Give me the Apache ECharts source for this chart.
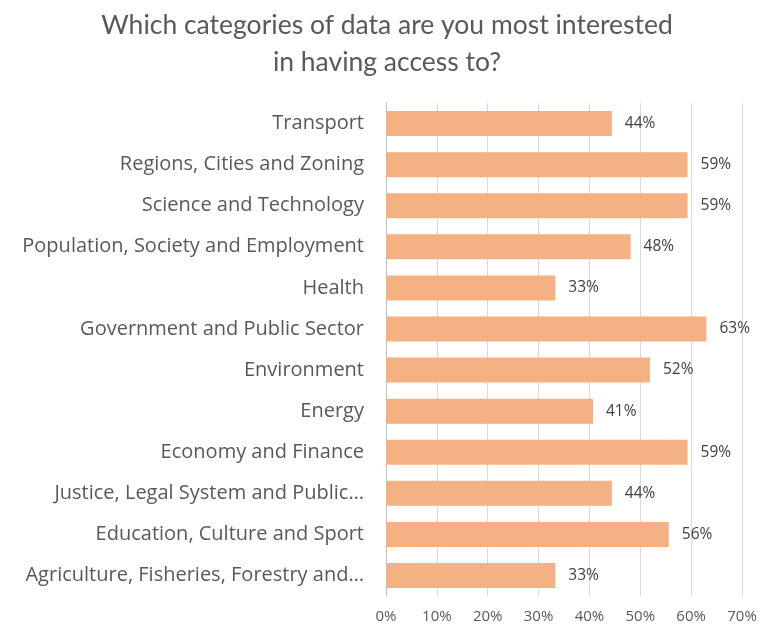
<!DOCTYPE html>
<html>
<head>
<meta charset="utf-8">
<script src="https://cdn.jsdelivr.net/npm/echarts@6/dist/echarts.min.js"></script>
<style>html,body{margin:0;padding:0;background:#fff}#c{width:760px;height:626px}</style>
</head>
<body>
<div id="c"></div>
<script>
const titleText = "Which categories of data are you most interested\nin having access to?";
const categories = [
  "Transport",
  "Regions, Cities and Zoning",
  "Science and Technology",
  "Population, Society and Employment",
  "Health",
  "Government and Public Sector",
  "Environment",
  "Energy",
  "Economy and Finance",
  "Justice, Legal System and Public…",
  "Education, Culture and Sport",
  "Agriculture, Fisheries, Forestry and…"
];
const values = [44.4, 59.3, 59.3, 48.1, 33.3, 63.0, 51.9, 40.7, 59.3, 44.4, 55.6, 33.3];
const xTicks = [0, 10, 20, 30, 40, 50, 60, 70];

const font = "Lato, 'Open Sans', sans-serif";
const font2 = "'Open Sans', Lato, sans-serif";
const chart = echarts.init(document.getElementById('c'), null, {renderer: 'canvas'});
chart.setOption({
  animation: false,
  backgroundColor: '#fff',
  title: {
    text: titleText,
    left: 382, top: 2, textAlign: 'center',
    textStyle: {fontFamily: font, fontSize: 26.5, fontWeight: 'normal', color: '#595959', lineHeight: 37}
  },
  grid: {left: 386, right: 18, top: 103, bottom: 30, containLabel: false},
  xAxis: {
    type: 'value', min: xTicks[0], max: xTicks[xTicks.length - 1], interval: 10,
    axisLine: {show: false}, axisTick: {show: false},
    splitLine: {show: true, lineStyle: {color: '#d9d9d9', width: 1}},
    axisLabel: {formatter: v => v + '%', fontFamily: font2, fontSize: 15, color: '#595959', margin: 13}
  },
  yAxis: {
    type: 'category', data: categories, inverse: true,
    axisLine: {show: true, lineStyle: {color: '#bfbfbf', width: 1}},
    axisTick: {show: false},
    axisLabel: {fontFamily: font2, fontSize: 20, color: '#595959', margin: 22, padding: [3, 0, 0, 0]}
  },
  series: [{
    type: 'bar', data: values, barWidth: 25,
    itemStyle: {color: '#F4B183'},
    label: {show: true, position: 'right', distance: 13, formatter: p => Math.round(p.value) + '%',
      fontFamily: font2, fontSize: 15.5, color: '#404040'}
  }]
});
</script>
</body>
</html>
